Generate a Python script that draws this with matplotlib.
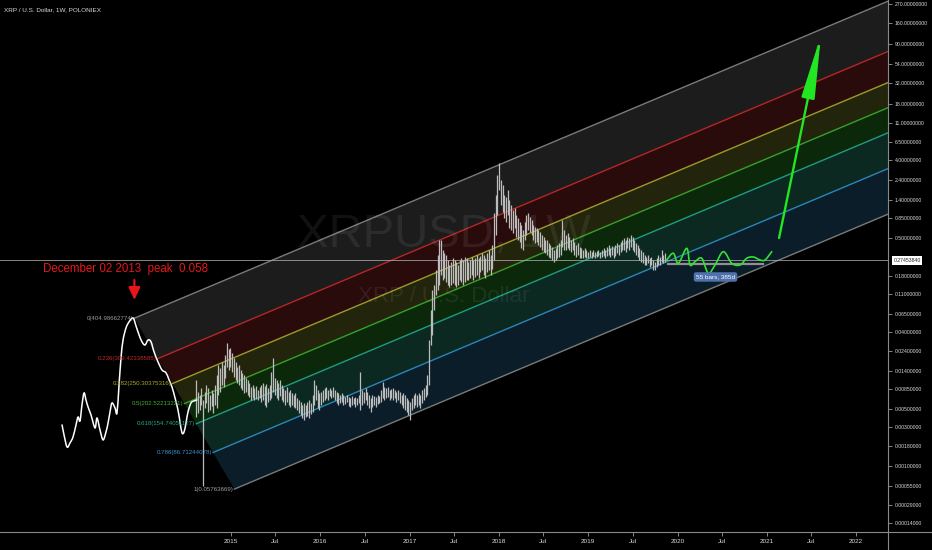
import numpy as np
import matplotlib
matplotlib.use('Agg')
import matplotlib.pyplot as plt
import matplotlib.ticker as mticker
import matplotlib.transforms as mtrans
from matplotlib.patches import FancyArrowPatch, PathPatch
from matplotlib.path import Path
from matplotlib.lines import Line2D

plt.rcParams['font.family'] = ['Liberation Sans', 'DejaVu Sans']

# weekly XRP/USD bars (decimal year of first bar, then highs / lows)
bar_start = 2014.61
bar_high = [
    0.0110, 0.0079, 0.0073, 0.0088, 0.0064, 0.0079, 0.0096, 0.0088, 0.0073, 0.0084, 0.0077, 0.0096,
    0.0126, 0.0164, 0.0152, 0.0178, 0.0164, 0.0215, 0.030, 0.025, 0.026, 0.023, 0.0198, 0.0178,
    0.0156, 0.0164, 0.0144, 0.0133, 0.0126, 0.0116, 0.0110, 0.0101, 0.0091, 0.0096, 0.0088, 0.0094,
    0.0084, 0.0091, 0.0096, 0.0101, 0.0094, 0.0098, 0.0088, 0.0096, 0.0136, 0.0198, 0.0116, 0.0110,
    0.0101, 0.0110, 0.0096, 0.0088, 0.0084, 0.0091, 0.0079, 0.0084, 0.0077, 0.0073, 0.0077, 0.0067,
    0.0064, 0.0060, 0.0056, 0.0058, 0.0056, 0.0060, 0.0064, 0.0058, 0.0073, 0.0110, 0.0096, 0.0084,
    0.0077, 0.0079, 0.0084, 0.0088, 0.0091, 0.0084, 0.0088, 0.0084, 0.0091, 0.0084, 0.0079, 0.0077,
    0.0073, 0.0077, 0.0073, 0.0069, 0.0073, 0.0069, 0.0067, 0.0071, 0.0067, 0.0069, 0.0067, 0.0073,
    0.0136, 0.0084, 0.0079, 0.0088, 0.0079, 0.0073, 0.0067, 0.0073, 0.0071, 0.0069, 0.0073, 0.0071,
    0.0084, 0.0104, 0.0091, 0.0088, 0.0091, 0.0084, 0.0086, 0.0088, 0.0084, 0.0079, 0.0084, 0.0079,
    0.0073, 0.0077, 0.0073, 0.0067, 0.0064, 0.0060, 0.0067, 0.0073, 0.0077, 0.0073, 0.0077, 0.0073,
    0.0084, 0.0088, 0.0096, 0.0126, 0.032, 0.072, 0.124, 0.142, 0.21, 0.32, 0.47, 0.47,
    0.36, 0.33, 0.32, 0.28, 0.24, 0.26, 0.29, 0.28, 0.26, 0.24, 0.28, 0.29,
    0.28, 0.30, 0.29, 0.26, 0.28, 0.30, 0.28, 0.29, 0.32, 0.29, 0.31, 0.33,
    0.32, 0.29, 0.33, 0.36, 0.32, 0.41, 0.98, 1.59, 2.71, 3.74, 2.37, 2.07,
    1.59, 1.50, 1.81, 1.39, 1.21, 1.06, 1.12, 0.93, 0.86, 0.77, 0.71, 0.62,
    0.77, 0.93, 0.98, 0.88, 0.81, 0.71, 0.67, 0.65, 0.62, 0.59, 0.54, 0.51,
    0.47, 0.47, 0.44, 0.41, 0.39, 0.36, 0.38, 0.41, 0.44, 0.47, 0.81, 0.62,
    0.54, 0.57, 0.51, 0.47, 0.50, 0.45, 0.41, 0.44, 0.39, 0.38, 0.36, 0.38,
    0.36, 0.34, 0.36, 0.34, 0.36, 0.34, 0.35, 0.36, 0.34, 0.36, 0.38, 0.36,
    0.39, 0.41, 0.38, 0.40, 0.38, 0.41, 0.44, 0.41, 0.45, 0.47, 0.50, 0.47,
    0.51, 0.50, 0.54, 0.51, 0.47, 0.44, 0.41, 0.38, 0.36, 0.34, 0.32, 0.30,
    0.32, 0.29, 0.30, 0.28, 0.26, 0.29, 0.32, 0.30, 0.36, 0.32, 0.33,
]
bar_low = [
    0.0040, 0.0044, 0.0048, 0.0056, 0.00055, 0.0051, 0.0058, 0.0046, 0.0048, 0.0054, 0.0044, 0.0056,
    0.0051, 0.0073, 0.0079, 0.0096, 0.0091, 0.0116, 0.0156, 0.0144, 0.0156, 0.0136, 0.0119, 0.0110,
    0.0101, 0.0096, 0.0088, 0.0084, 0.0077, 0.0079, 0.0073, 0.0069, 0.0064, 0.0067, 0.0064, 0.0065,
    0.0064, 0.0067, 0.0060, 0.0064, 0.0056, 0.0052, 0.0060, 0.0064, 0.0067, 0.0079, 0.0073, 0.0067,
    0.0064, 0.0071, 0.0064, 0.0060, 0.0056, 0.0060, 0.0056, 0.0052, 0.0056, 0.0052, 0.0051, 0.0048,
    0.0044, 0.0042, 0.0039, 0.0037, 0.0040, 0.0041, 0.0039, 0.0043, 0.0046, 0.0056, 0.0064, 0.0051,
    0.0048, 0.0056, 0.0060, 0.0064, 0.0067, 0.0064, 0.0071, 0.0067, 0.0069, 0.0064, 0.0058, 0.0056,
    0.0058, 0.0060, 0.0056, 0.0057, 0.0060, 0.0054, 0.0052, 0.0056, 0.0057, 0.0052, 0.0056, 0.0058,
    0.0048, 0.0056, 0.0058, 0.0064, 0.0056, 0.0051, 0.0046, 0.0052, 0.0056, 0.0052, 0.0057, 0.0058,
    0.0060, 0.0067, 0.0064, 0.0067, 0.0069, 0.0064, 0.0067, 0.0064, 0.0067, 0.0060, 0.0064, 0.0058,
    0.0056, 0.0051, 0.0048, 0.0046, 0.0042, 0.0037, 0.0048, 0.0051, 0.0056, 0.0052, 0.0056, 0.0051,
    0.0058, 0.0064, 0.0069, 0.0073, 0.0096, 0.028, 0.037, 0.072, 0.108, 0.124, 0.142, 0.185,
    0.162, 0.17, 0.153, 0.142, 0.134, 0.142, 0.149, 0.142, 0.134, 0.142, 0.162, 0.153,
    0.142, 0.153, 0.162, 0.162, 0.17, 0.185, 0.162, 0.175, 0.185, 0.17, 0.20, 0.21,
    0.185, 0.17, 0.20, 0.21, 0.185, 0.22, 0.28, 0.54, 0.93, 1.81, 1.21, 1.00,
    0.86, 0.77, 0.93, 0.65, 0.62, 0.57, 0.65, 0.51, 0.47, 0.45, 0.38, 0.36,
    0.47, 0.54, 0.62, 0.59, 0.54, 0.47, 0.44, 0.45, 0.41, 0.39, 0.36, 0.34,
    0.33, 0.32, 0.30, 0.29, 0.28, 0.26, 0.28, 0.29, 0.30, 0.32, 0.39, 0.36,
    0.36, 0.38, 0.36, 0.34, 0.36, 0.32, 0.30, 0.32, 0.29, 0.29, 0.29, 0.30,
    0.29, 0.29, 0.30, 0.29, 0.31, 0.29, 0.30, 0.31, 0.29, 0.30, 0.31, 0.29,
    0.31, 0.32, 0.30, 0.32, 0.29, 0.31, 0.33, 0.32, 0.34, 0.36, 0.36, 0.34,
    0.38, 0.36, 0.39, 0.36, 0.34, 0.32, 0.30, 0.28, 0.26, 0.255, 0.24, 0.24,
    0.255, 0.23, 0.24, 0.21, 0.21, 0.23, 0.24, 0.24, 0.26, 0.255, 0.26,
]
last_price = 0.2745384

# hand drawn white path (2013 history) and green projection wave
brush_t = [2013.108, 2013.130, 2013.164, 2013.197, 2013.231, 2013.264, 2013.287, 2013.309, 2013.331,
           2013.354, 2013.376, 2013.399, 2013.432, 2013.477, 2013.499, 2013.533, 2013.567, 2013.600,
           2013.623, 2013.645, 2013.667, 2013.701, 2013.723, 2013.746, 2013.768, 2013.791, 2013.824,
           2013.858, 2013.903, 2013.936, 2013.970, 2014.003, 2014.037, 2014.071, 2014.104, 2014.138,
           2014.183, 2014.227, 2014.272, 2014.306, 2014.339, 2014.373, 2014.406, 2014.429, 2014.451,
           2014.474, 2014.496, 2014.518, 2014.552, 2014.586, 2014.619]
brush_p = [0.00321, 0.00243, 0.00173, 0.00194, 0.00230, 0.00321, 0.00400, 0.00358, 0.00556,
           0.00771, 0.00637, 0.00526, 0.00423, 0.00295, 0.00389, 0.00279, 0.00211, 0.00264,
           0.00339, 0.00459, 0.00587, 0.00512, 0.00446, 0.00958, 0.0199, 0.0323, 0.0446,
           0.0525, 0.0584, 0.0471, 0.0370, 0.0307, 0.0282, 0.0323, 0.0307, 0.0234,
           0.0178, 0.0144, 0.0133, 0.0110, 0.00907, 0.00673, 0.00485, 0.00348, 0.00257,
           0.00264, 0.00339, 0.00459, 0.00587, 0.00620, 0.00637]
wave_t = [2019.879, 2019.953, 2020.009, 2020.103, 2020.140, 2020.196, 2020.271, 2020.345, 2020.420,
          2020.513, 2020.607, 2020.700, 2020.775, 2020.849, 2020.924, 2020.980, 2021.055]
wave_p = [0.277, 0.332, 0.2535, 0.379, 0.242, 0.265, 0.290, 0.194, 0.242,
          0.346, 0.2535, 0.242, 0.290, 0.300, 0.277, 0.277, 0.346]
range_t = [2019.894, 2020.957]
range_p = 0.2488
range_text = '55 bars, 385d'
arrow_from = (2021.137, 0.5)
arrow_to = (2021.607, 116)
peak_t, peak_p = 2013.918, 0.058

# fib channel
fib_levels = [0, 0.236, 0.382, 0.5, 0.618, 0.786, 1]
fib_values = ['404.98662774', '309.42338585', '250.30375316', '202.52213221',
              '154.74051127', '86.71244078', '0.05763669']
line_colors = ['#7a7a7a', '#b52626', '#9a9b28', '#36a02c', '#1f9c83', '#2a86b8', '#7a7a7a']
label_colors = ['#9a9a9a', '#c62828', '#a8ab2a', '#3fb030', '#22a888', '#3a95c8', '#a0a0a0']
fill_colors = ['#1c1c1c', '#2a0b0b', '#22250b', '#0b280b', '#0b2821', '#0a1d29']
chan_slope = 0.4378   # log10 units per year
chan_width = 2.4825   # log10 units between level 0 and level 1
chan_shift = 1.12     # years the level 1 line starts after level 0

y_ticks = [270, 160, 90, 54, 32, 18, 11, 6.5, 4, 2.4, 1.4, 0.85, 0.5, 0.18, 0.11, 0.065, 0.04,
           0.024, 0.014, 0.0085, 0.005, 0.003, 0.0018, 0.001, 0.00055, 0.00029, 0.00014]
x_ticks = [2015, 2015.496, 2016, 2016.496, 2017, 2017.496, 2018, 2018.496, 2019, 2019.496,
           2020, 2020.496, 2021, 2021.496, 2022]
x_labels = ['2015', 'Jul', '2016', 'Jul', '2017', 'Jul', '2018', 'Jul', '2019', 'Jul',
            '2020', 'Jul', '2021', 'Jul', '2022']

OFF = 1e-4
def fwd(p):
    return np.log10(np.maximum(np.asarray(p, dtype=float) + OFF, 1e-12))
def inv(v):
    return 10 ** np.asarray(v, dtype=float) - OFF

def smooth_path(ts, ps):
    # catmull-rom curve through the drawn points (as bezier), built in log space
    pts = np.column_stack([np.asarray(ts, dtype=float), fwd(ps)])
    ext = np.vstack([pts[0], pts, pts[-1]])
    verts = [tuple(pts[0])]
    codes = [Path.MOVETO]
    for i in range(1, len(ext) - 2):
        p0, p1, p2, p3 = ext[i - 1], ext[i], ext[i + 1], ext[i + 2]
        verts += [tuple(p1 + (p2 - p0) / 6), tuple(p2 - (p3 - p1) / 6), tuple(p2)]
        codes += [Path.CURVE4] * 3
    verts = [(x, float(inv(y))) for x, y in verts]
    return Path(verts, codes)

fig = plt.figure(figsize=(9.32, 5.5), dpi=100, facecolor='black')
ax = fig.add_axes([0, 18 / 550, 888 / 932, 532 / 550])
ax.set_facecolor('black')
ax.set_yscale('function', functions=(fwd, inv))
ax.set_xlim(2012.413, 2022.357)
ax.set_ylim(8.7e-5, 297)
for s in ax.spines.values():
    s.set_visible(False)

# channel bands
f0 = np.log10(peak_p + OFF)
t_end = 2023.0
def level_f(lv, t):
    return f0 + chan_slope * (t - peak_t) - chan_width * lv
starts = [peak_t + chan_shift * lv for lv in fib_levels]
for k in range(len(fib_levels) - 1):
    a, b = fib_levels[k], fib_levels[k + 1]
    ta, tb = starts[k], starts[k + 1]
    xs = [ta, t_end, t_end, tb]
    fs = [level_f(a, ta), level_f(a, t_end), level_f(b, t_end), level_f(b, tb)]
    ax.fill(xs, inv(fs), color=fill_colors[k], lw=0, zorder=1)
for k, lv in enumerate(fib_levels):
    ta = starts[k]
    ax.plot([ta, t_end], inv([level_f(lv, ta), level_f(lv, t_end)]), color=line_colors[k],
            lw=1.0, zorder=2)
    ax.text(ta - 0.01, inv(level_f(lv, ta)), '%g(%s)' % (lv, fib_values[k]), color=label_colors[k],
            fontsize=4.4, ha='right', va='center', zorder=6)

# watermark
ax.text(0.5, 1 - 235 / 532, 'XRPUSD, 1W', transform=ax.transAxes, ha='center', va='center',
        fontsize=34, color='white', alpha=0.07, zorder=2.5)
ax.text(0.5, 1 - 297 / 532, 'XRP / U.S. Dollar', transform=ax.transAxes, ha='center', va='center',
        fontsize=16, color='white', alpha=0.07, zorder=2.5)

# last price line
ax.axhline(last_price, color='#a8a8a8', lw=0.7, alpha=0.8, zorder=3)

# bars
bar_t = bar_start + np.arange(len(bar_high)) * 7 / 365.25
ax.vlines(bar_t, bar_low, bar_high, color='#bcbcbc', lw=0.9, zorder=4)

# drawings
ax.add_patch(PathPatch(smooth_path(brush_t, brush_p), fill=False, ec='white', lw=1.1,
                       capstyle='round', joinstyle='round', zorder=5))
ax.add_patch(PathPatch(smooth_path(wave_t, wave_p), fill=False, ec='#33e033', lw=1.2,
                       capstyle='round', joinstyle='round', zorder=5))
ax.plot(range_t, [range_p, range_p], color='#909090', lw=1.6, zorder=4.5)
ax.text(np.mean(range_t), 0.1755, range_text, color='white', fontsize=4.6, ha='center', va='center',
        zorder=7, bbox=dict(boxstyle='round,pad=0.35', fc='#4f72ad', ec='none'))
ax.add_patch(FancyArrowPatch(arrow_from, arrow_to, arrowstyle='-|>,head_length=3.8,head_width=0.4',
                             mutation_scale=10, color='#22e622', lw=1.7, shrinkA=0, shrinkB=0, zorder=6))
ax.add_patch(FancyArrowPatch((peak_t, 0.162), (peak_t, 0.0947), arrowstyle='-|>,head_length=0.75,head_width=0.35',
                             mutation_scale=10, color='#e8161b', lw=1.5, shrinkA=0, shrinkB=0, zorder=6))
ax.text(2012.895, 0.2007, 'December 02 2013  peak  0.058', color='#e8161b', fontsize=8.3,
        ha='left', va='baseline', zorder=6)

# axes
ax.yaxis.tick_right()
ax.yaxis.set_major_locator(mticker.FixedLocator(y_ticks))
ax.yaxis.set_major_formatter(mticker.FuncFormatter(lambda v, pos: '%.8f' % v))
ax.yaxis.set_minor_locator(mticker.NullLocator())
ax.xaxis.set_major_locator(mticker.FixedLocator(x_ticks))
ax.xaxis.set_major_formatter(mticker.FixedFormatter(x_labels))
ax.tick_params(axis='y', colors='#9a9a9a', labelcolor='#dadada', labelsize=3.7, length=3, width=0.6, pad=2)
ax.tick_params(axis='x', colors='#9a9a9a', labelcolor='#dadada', labelsize=4.6, length=3, width=0.6, pad=2)

# price label on the scale
blend = mtrans.blended_transform_factory(ax.transAxes, ax.transData)
ax.text(1.006, last_price, '%.8f' % last_price, transform=blend, ha='left', va='center', fontsize=3.7,
        color='#222222', clip_on=False, zorder=8, bbox=dict(boxstyle='square,pad=0.35', fc='white', ec='none'))

# frame lines
fig.add_artist(Line2D([888 / 932, 888 / 932], [0, 1], color='#8a8a8a', lw=0.8))
fig.add_artist(Line2D([0, 1], [18 / 550, 18 / 550], color='#8a8a8a', lw=0.8))

fig.text(4 / 932, 1 - 10 / 550, 'XRP / U.S. Dollar, 1W, POLONIEX', color='#dadada', fontsize=4.6,
         ha='left', va='center')

fig.savefig('out.png', dpi=100, facecolor='black')
